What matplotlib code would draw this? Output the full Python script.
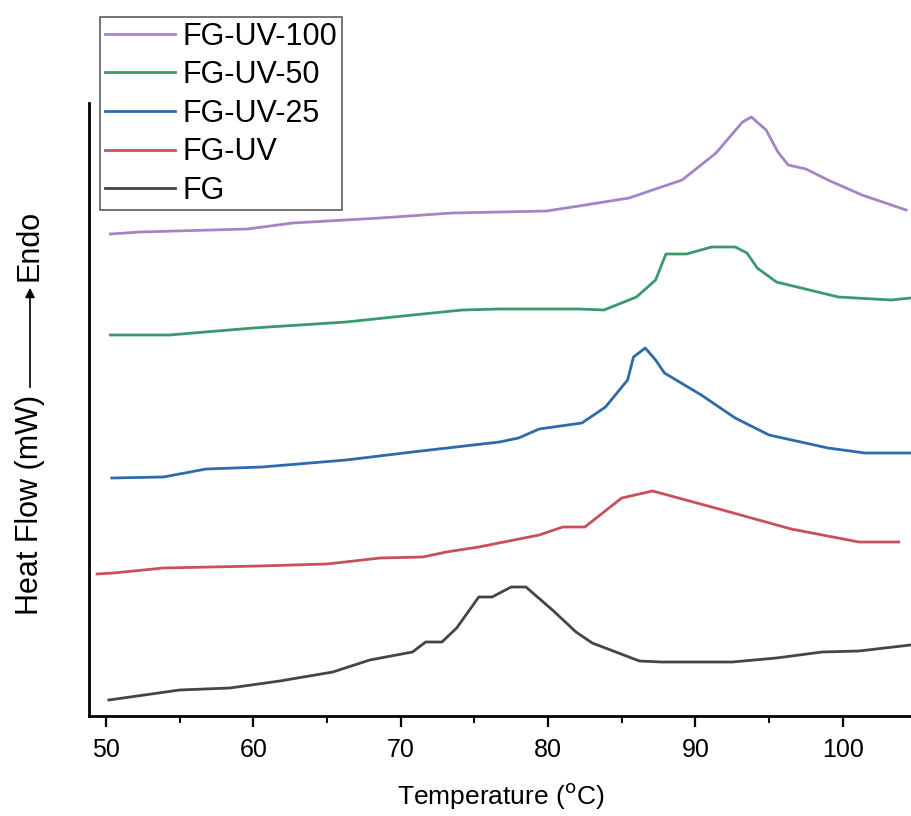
import matplotlib
matplotlib.use("Agg")
import matplotlib.pyplot as plt
from matplotlib.patches import FancyArrowPatch
from matplotlib.ticker import MultipleLocator

plt.rcParams['font.family'] = ['Liberation Sans', 'DejaVu Sans']

# ---- data (heat flow, arbitrary offset units) ----
t_fg = [50.2, 55.0, 58.4, 61.8, 65.4, 67.9, 70.8, 71.7, 72.8, 73.8, 75.3, 76.2, 77.5, 78.5,
        80.3, 81.9, 83.0, 86.2, 87.7, 92.5, 95.5, 98.6, 101.1, 104.6]
y_fg = [0.16, 0.26, 0.28, 0.35, 0.44, 0.56, 0.64, 0.74, 0.74, 0.88, 1.19, 1.19, 1.29, 1.29,
        1.06, 0.84, 0.73, 0.55, 0.54, 0.54, 0.58, 0.64, 0.65, 0.71]

t_uv = [49.4, 50.5, 53.9, 60.4, 65.0, 68.6, 71.5, 73.1, 75.3, 79.4, 81.0, 82.5, 85.0, 87.1,
        91.6, 96.5, 101.1, 103.8]
y_uv = [1.42, 1.43, 1.48, 1.50, 1.52, 1.58, 1.59, 1.64, 1.69, 1.81, 1.89, 1.89, 2.18, 2.25,
        2.07, 1.87, 1.74, 1.74]

t_uv25 = [50.4, 53.9, 56.8, 60.6, 66.3, 70.8, 76.7, 78.0, 79.4, 82.3, 83.9, 85.4, 85.8, 86.6,
          87.3, 87.9, 90.4, 92.7, 95.0, 99.0, 101.5, 104.6]
y_uv25 = [2.38, 2.39, 2.47, 2.49, 2.56, 2.64, 2.74, 2.78, 2.87, 2.93, 3.09, 3.36, 3.59, 3.68,
          3.56, 3.43, 3.21, 2.98, 2.81, 2.68, 2.63, 2.63]

t_uv50 = [50.3, 54.3, 60.0, 66.3, 70.8, 74.2, 76.7, 82.1, 83.8, 86.0, 87.3, 88.0, 89.4, 91.1,
          92.7, 93.5, 94.2, 95.5, 99.7, 103.3, 104.6]
y_uv50 = [3.81, 3.81, 3.88, 3.94, 4.01, 4.06, 4.07, 4.07, 4.06, 4.19, 4.36, 4.62, 4.62, 4.69,
          4.69, 4.63, 4.48, 4.34, 4.19, 4.16, 4.18]

t_uv100 = [50.3, 52.3, 59.6, 62.7, 68.6, 73.5, 79.9, 82.1, 85.5, 89.1, 91.4, 93.2, 93.8, 94.8,
           95.6, 96.3, 97.5, 99.0, 101.3, 104.3]
y_uv100 = [4.82, 4.84, 4.87, 4.93, 4.98, 5.03, 5.05, 5.10, 5.18, 5.36, 5.63, 5.94, 5.99, 5.86,
           5.64, 5.51, 5.47, 5.36, 5.21, 5.06]

labels = ['FG', 'FG-UV', 'FG-UV-25', 'FG-UV-50', 'FG-UV-100']
colors = ['#454545', '#c8505a', '#2f6aaa', '#3a9a6c', '#a584c6']
series = [(t_fg, y_fg), (t_uv, y_uv), (t_uv25, y_uv25), (t_uv50, y_uv50), (t_uv100, y_uv100)]
xticks = [50, 60, 70, 80, 90, 100]

fig = plt.figure(figsize=(9.12, 8.16), dpi=100)
ax = fig.add_axes([89/912, 100/816, 1 - 89/912, (716-103)/816])

handles = []
for (t, y), lab, c in zip(series, labels, colors):
    h, = ax.plot(t, y, color=c, lw=2.0, label=lab)
    handles.append(h)

ax.set_xlim(48.85, 104.7)
ax.set_ylim(0, 6.13)
ax.set_xticks(xticks)
ax.set_xticklabels([str(v) for v in xticks])
ax.xaxis.set_minor_locator(MultipleLocator(5))
ax.set_yticks([])
for s in ['top', 'right']:
    ax.spines[s].set_visible(False)
for s in ['left', 'bottom']:
    ax.spines[s].set_linewidth(2.0)
ax.tick_params(axis='x', which='major', direction='out', length=8, width=1.6,
               labelsize=18, pad=8)
ax.tick_params(axis='x', which='minor', direction='out', length=5, width=1.4)

ax.set_xlabel('Temperature ($^{\\mathrm{o}}$C)', fontsize=19)
ax.xaxis.set_label_coords(0.5, -(796 - 716) / 613)
ax.xaxis.label.set_verticalalignment('center')

# y label with arrow
fig.text(30/912, 1 - 505/816, 'Heat Flow (mW)', rotation=90, ha='center', va='center',
         fontsize=22)
fig.text(30/912, 1 - 245/816, 'Endo', rotation=90, ha='center', va='center', fontsize=22)
arr = FancyArrowPatch((30/912, 1 - 390/816), (30/912, 1 - 285/816),
                      transform=fig.transFigure, arrowstyle='-|>', mutation_scale=14,
                      color='black', lw=1.2)
fig.add_artist(arr)

leg = fig.legend(handles[::-1], labels[::-1], loc='upper left',
                 bbox_to_anchor=(100/912, 1 - 17/816), bbox_transform=fig.transFigure,
                 fontsize=22, frameon=True, fancybox=False, edgecolor='#333333',
                 borderpad=0.15, labelspacing=0.28, handlelength=2.3, handletextpad=0.25,
                 borderaxespad=0)
leg.get_frame().set_linewidth(1.2)

fig.savefig('out.png', dpi=100, facecolor='white')
